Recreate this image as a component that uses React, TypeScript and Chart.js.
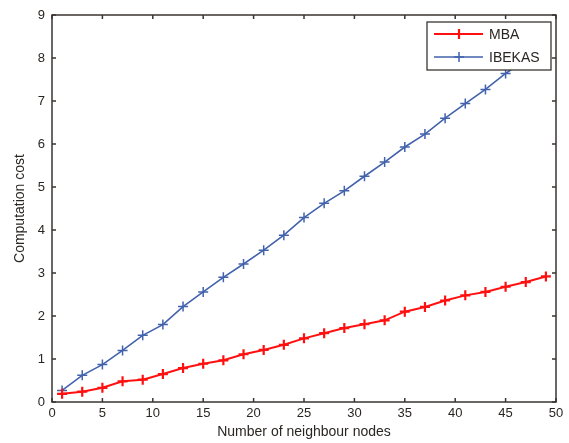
import React, { useEffect, useRef } from "react";
import { Chart, registerables } from "chart.js";

Chart.register(...registerables);

const xValues = [1, 3, 5, 7, 9, 11, 13, 15, 17, 19, 21, 23, 25, 27, 29, 31, 33, 35, 37, 39, 41, 43, 45, 47, 49];
const mbaValues = [0.19, 0.24, 0.33, 0.48, 0.52, 0.65, 0.79, 0.89, 0.97, 1.11, 1.21, 1.33, 1.48, 1.6, 1.72, 1.81, 1.9, 2.1, 2.21, 2.36, 2.48, 2.56, 2.68, 2.79, 2.92];
const ibekasValues = [0.27, 0.62, 0.87, 1.2, 1.55, 1.8, 2.22, 2.56, 2.9, 3.21, 3.53, 3.88, 4.29, 4.62, 4.91, 5.25, 5.58, 5.93, 6.23, 6.6, 6.94, 7.27, 7.64, 7.96, 8.3];
const xTicks = [0, 5, 10, 15, 20, 25, 30, 35, 40, 45, 50];
const yTicks = [0, 1, 2, 3, 4, 5, 6, 7, 8, 9];
const seriesNames = ["MBA", "IBEKAS"];

const FONT = "'Liberation Sans', Arial, sans-serif";
const AXIS_COLOR = "#3a3531";
const TEXT_COLOR = "#2a2622";
const RED = "#ff1010";
const BLUE = "#4262ac";

const framePlugin = {
  id: "frame",
  afterDatasetsDraw(chart: any) {
    const { ctx, chartArea } = chart;
    const { left, right, top, bottom } = chartArea;
    const xs = chart.scales.x;
    const ys = chart.scales.y;
    ctx.save();
    ctx.strokeStyle = AXIS_COLOR;
    ctx.lineWidth = 1.5;
    ctx.strokeRect(left, top, right - left, bottom - top);
    const len = 4;
    ctx.beginPath();
    xTicks.forEach((v) => {
      const px = xs.getPixelForValue(v);
      ctx.moveTo(px, bottom);
      ctx.lineTo(px, bottom - len);
      ctx.moveTo(px, top);
      ctx.lineTo(px, top + len);
    });
    yTicks.forEach((v) => {
      const py = ys.getPixelForValue(v);
      ctx.moveTo(left, py);
      ctx.lineTo(left + len, py);
      ctx.moveTo(right, py);
      ctx.lineTo(right - len, py);
    });
    ctx.stroke();

    // legend box
    const bx = right - 129;
    const by = top + 7;
    const bw = 124;
    const bh = 48;
    ctx.fillStyle = "#ffffff";
    ctx.fillRect(bx, by, bw, bh);
    ctx.strokeStyle = AXIS_COLOR;
    ctx.lineWidth = 1.3;
    ctx.strokeRect(bx, by, bw, bh);
    chart.data.datasets.forEach((ds: any, i: number) => {
      const cy = by + 12 + i * 23;
      ctx.strokeStyle = ds.borderColor;
      ctx.lineWidth = ds.borderWidth;
      ctx.beginPath();
      ctx.moveTo(bx + 7, cy);
      ctx.lineTo(bx + 56, cy);
      ctx.stroke();
      ctx.lineWidth = ds.pointBorderWidth;
      ctx.beginPath();
      ctx.moveTo(bx + 32 - 5, cy);
      ctx.lineTo(bx + 32 + 5, cy);
      ctx.moveTo(bx + 32, cy - 5);
      ctx.lineTo(bx + 32, cy + 5);
      ctx.stroke();
      ctx.fillStyle = TEXT_COLOR;
      ctx.font = `14px ${FONT}`;
      ctx.textBaseline = "middle";
      ctx.textAlign = "left";
      ctx.fillText(ds.label, bx + 62, cy + 1);
    });
    ctx.restore();
  },
};

export default function App() {
  const ref = useRef<HTMLCanvasElement | null>(null);
  useEffect(() => {
    if (!ref.current) return;
    const chart = new Chart(ref.current, {
      type: "line",
      data: {
        datasets: [
          {
            label: seriesNames[0],
            data: xValues.map((x, i) => ({ x, y: mbaValues[i] })),
            borderColor: RED,
            backgroundColor: RED,
            borderWidth: 2,
            pointStyle: "cross",
            pointRadius: 5,
            pointBorderWidth: 2.2,
            pointBorderColor: RED,
            tension: 0,
          },
          {
            label: seriesNames[1],
            data: xValues.map((x, i) => ({ x, y: ibekasValues[i] })),
            borderColor: BLUE,
            backgroundColor: BLUE,
            borderWidth: 1.6,
            pointStyle: "cross",
            pointRadius: 5,
            pointBorderWidth: 1.5,
            pointBorderColor: BLUE,
            tension: 0,
          },
        ],
      },
      options: {
        animation: false,
        responsive: false,
        layout: { padding: { top: 15, right: 13, left: 0, bottom: 0 } },
        plugins: { legend: { display: false }, tooltip: { enabled: false } },
        scales: {
          x: {
            type: "linear",
            min: 0,
            max: 50,
            afterBuildTicks: (s: any) => {
              s.ticks = xTicks.map((v) => ({ value: v }));
            },
            afterFit: (s: any) => {
              s.height = 41;
            },
            grid: { display: false, drawTicks: false },
            border: { display: false },
            ticks: {
              color: TEXT_COLOR,
              font: { family: FONT, size: 13 },
              padding: 4,
              maxRotation: 0,
            },
            title: {
              display: true,
              text: "Number of neighbour nodes",
              color: TEXT_COLOR,
              font: { family: FONT, size: 14 },
              padding: { top: 0, bottom: 2.6 },
            },
          },
          y: {
            type: "linear",
            min: 0,
            max: 9,
            afterBuildTicks: (s: any) => {
              s.ticks = yTicks.map((v) => ({ value: v }));
            },
            afterFit: (s: any) => {
              s.width = 52;
            },
            grid: { display: false, drawTicks: false },
            border: { display: false },
            ticks: {
              color: TEXT_COLOR,
              font: { family: FONT, size: 13 },
              padding: 7,
            },
            title: {
              display: true,
              text: "Computation cost",
              color: TEXT_COLOR,
              font: { family: FONT, size: 14 },
              padding: { top: 11.6, bottom: 0 },
            },
          },
        },
      },
      plugins: [framePlugin],
    });
    return () => chart.destroy();
  }, []);
  return (
    <div style={{ position: "fixed", left: 0, top: 0, width: 569, height: 443, background: "#fff" }}>
      <canvas ref={ref} width={569} height={443} style={{ width: 569, height: 443 }} />
    </div>
  );
}
